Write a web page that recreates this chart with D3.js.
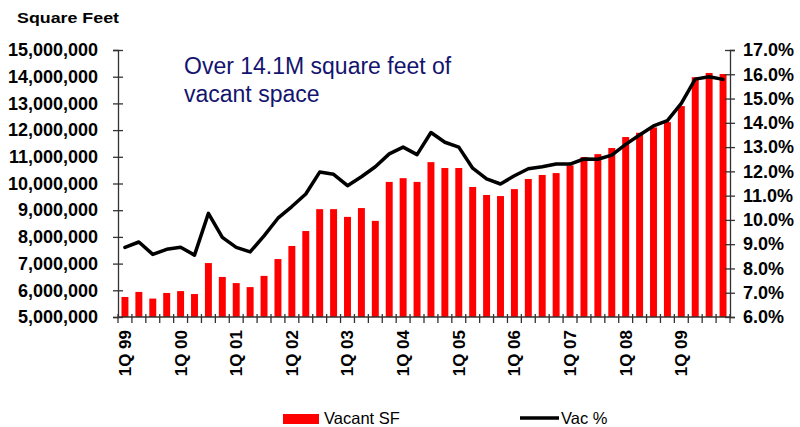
<!DOCTYPE html>
<html>
<head>
<meta charset="utf-8">
<script src="https://cdn.jsdelivr.net/npm/d3@7"></script>
<style>
html,body{margin:0;padding:0;background:#fff;}
svg{display:block;font-family:"Liberation Sans",Arial,sans-serif;}
</style>
</head>
<body>
<svg id="chart" width="800" height="427"></svg>
<script>
const years = ["99","00","01","02","03","04","05","06","07","08","09"];
const quarters = [];
years.forEach(y => { for (let q = 1; q <= 4; q++) quarters.push(q + "Q " + y); });

const vacantSF = [
  5750000, 5940000, 5690000, 5900000, 5970000, 5860000, 7020000, 6500000,
  6270000, 6120000, 6540000, 7170000, 7660000, 8220000, 9040000, 9040000,
  8750000, 9080000, 8600000, 10060000, 10200000, 10060000, 10800000, 10580000,
  10580000, 9870000, 9570000, 9530000, 9790000, 10170000, 10320000, 10390000,
  10680000, 10990000, 11100000, 11330000, 11740000, 11900000, 12100000, 12300000,
  12900000, 13980000, 14140000, 14100000
];
const vacPct = [
  8.87, 9.09, 8.58, 8.79, 8.87, 8.55, 10.27, 9.28,
  8.87, 8.68, 9.34, 10.07, 10.55, 11.07, 11.97, 11.88,
  11.41, 11.78, 12.19, 12.72, 13.0, 12.69, 13.6, 13.2,
  13.0, 12.13, 11.69, 11.48, 11.82, 12.11, 12.19, 12.3,
  12.3, 12.51, 12.5, 12.67, 13.11, 13.5, 13.87, 14.09,
  14.8, 15.8, 15.9, 15.79
];
const leftTicks = [5e6,6e6,7e6,8e6,9e6,10e6,11e6,12e6,13e6,14e6,15e6];
const rightTicks = [6,7,8,9,10,11,12,13,14,15,16,17];
const annotation = ["Over 14.1M square feet of", "vacant space"];
const legendItems = ["Vacant SF", "Vac %"];

const svg = d3.select("#chart");
const L = 118, R = 730, T = 50, B = 317;

const x = d3.scaleBand().domain(quarters).range([L, R]).paddingInner(0.5).paddingOuter(0.25);
const xOuter = d3.scaleBand().domain(quarters).range([L, R]);
const yL = d3.scaleLinear().domain([5e6, 15e6]).range([B, T]);
const yR = d3.scaleLinear().domain([6, 17]).range([B, T]);

// bars
svg.append("g").selectAll("rect").data(vacantSF).join("rect")
  .attr("x", (d,i) => x(quarters[i]))
  .attr("y", d => yL(d))
  .attr("width", x.bandwidth())
  .attr("height", d => B - yL(d))
  .attr("fill", "#ff0000");

// axes
const axisColor = "#333";
const fmt = d3.format(",");
const gl = svg.append("g").attr("transform", `translate(${L},0)`)
  .call(d3.axisLeft(yL).tickValues(leftTicks).tickFormat(fmt).tickSizeOuter(0).tickSize(5).tickPadding(15));
gl.selectAll(".tick line").attr("x1", -5).attr("x2", 5);
const gr = svg.append("g").attr("transform", `translate(${R},0)`)
  .call(d3.axisRight(yR).tickValues(rightTicks).tickFormat(d => d.toFixed(1) + "%").tickSizeOuter(0).tickSize(5).tickPadding(8));
gr.selectAll(".tick line").attr("x1", -5).attr("x2", 5);
[gl, gr].forEach(g => {
  g.select(".domain").attr("stroke", axisColor).attr("stroke-width", 1.3);
  g.selectAll(".tick line").attr("stroke", axisColor).attr("stroke-width", 1.3);
  g.selectAll(".tick text").attr("fill", "#000").style("font-size", "18px").style("font-weight", "bold")
    .style("font-family", "'Liberation Sans', Arial, sans-serif");
});

// bottom axis
const gb = svg.append("g");
gb.append("line").attr("x1", L).attr("x2", R).attr("y1", B).attr("y2", B)
  .attr("stroke", axisColor).attr("stroke-width", 1.3);
const bounds = quarters.map(q => xOuter(q)).concat([R]);
gb.selectAll("line.tk").data(bounds).join("line").attr("class","tk")
  .attr("x1", d => d).attr("x2", d => d).attr("y1", B - 3).attr("y2", B + 6)
  .attr("stroke", axisColor).attr("stroke-width", 1.3);
const labelQs = quarters.filter(q => q.startsWith("1Q"));
gb.selectAll("text").data(labelQs).join("text")
  .attr("transform", d => `translate(${xOuter(d) + xOuter.bandwidth()/2},330) rotate(-90)`)
  .attr("text-anchor", "end").attr("dy", "0.35em")
  .style("font-size", "17px").style("font-weight", "bold").attr("fill", "#000")
  .text(d => d);

// line
const line = d3.line()
  .x((d,i) => xOuter(quarters[i]) + xOuter.bandwidth()/2)
  .y(d => yR(d));
svg.append("path").datum(vacPct).attr("d", line)
  .attr("fill", "none").attr("stroke", "#000").attr("stroke-width", 3.5)
  .attr("stroke-linejoin", "round").attr("stroke-linecap", "round");

// axis title
svg.append("text").attr("x", 17).attr("y", 23).attr("textLength", 102).attr("lengthAdjust", "spacingAndGlyphs")
  .style("font-size", "14px").style("font-weight", "bold").attr("fill", "#000").text("Square Feet");

// annotation
svg.append("g").selectAll("text").data(annotation).join("text")
  .attr("x", 184).attr("y", (d,i) => 74 + i * 27.5)
  .style("font-size", "23px").attr("fill", "#14146e").text(d => d);

// legend
svg.append("rect").attr("x", 283).attr("y", 414).attr("width", 36).attr("height", 10).attr("fill", "#ff0000");
svg.append("text").attr("x", 324).attr("y", 424).style("font-size", "16.5px").attr("fill", "#000").text(legendItems[0]);
svg.append("line").attr("x1", 520).attr("x2", 559).attr("y1", 418).attr("y2", 418)
  .attr("stroke", "#000").attr("stroke-width", 3.5);
svg.append("text").attr("x", 561).attr("y", 424).style("font-size", "16.5px").attr("fill", "#000").text(legendItems[1]);
</script>
</body>
</html>
